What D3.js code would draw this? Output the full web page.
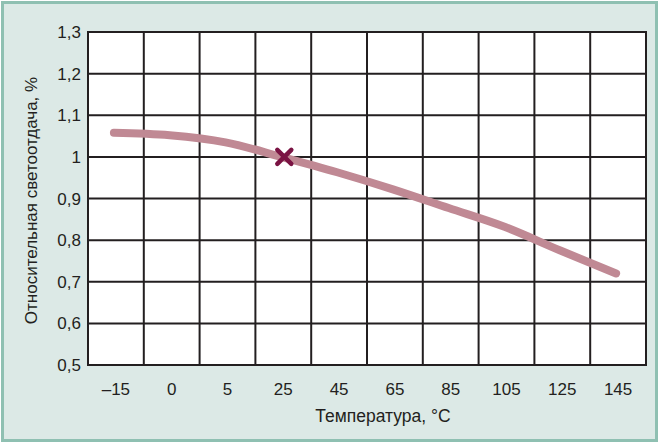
<!DOCTYPE html>
<html>
<head>
<meta charset="utf-8">
<script src="https://cdn.jsdelivr.net/npm/d3@7"></script>
<style>
  html, body { margin: 0; padding: 0; background: #fff; }
  svg { display: block; }
  text { font-family: "Liberation Sans", Arial, sans-serif; fill: #231f20; }
</style>
</head>
<body>
<div id="chart"></div>
<script>
// temperature categories (evenly spaced on the chart)
const temps = ["–15", "0", "5", "25", "45", "65", "85", "105", "125", "145"];
// relative light output
const output = [1.058, 1.052, 1.035, 1.0, 0.963, 0.922, 0.877, 0.832, 0.775, 0.72];
const yTicks = [0.5, 0.6, 0.7, 0.8, 0.9, 1.0, 1.1, 1.2, 1.3];
const markTemp = "25";

const W = 659, H = 443;
const margin = { top: 32, right: 13, bottom: 78, left: 88 };

const svg = d3.select("#chart").append("svg")
  .attr("width", W)
  .attr("height", H);

// panel background + border
svg.append("rect")
  .attr("x", 2.5).attr("y", 2.5)
  .attr("width", W - 5).attr("height", H - 5)
  .attr("fill", "#dce9e6")
  .attr("stroke", "#8fc0b2")
  .attr("stroke-width", 3);

const x = d3.scaleBand()
  .domain(temps)
  .range([margin.left, W - margin.right]);

const y = d3.scaleLinear()
  .domain([0.5, 1.3])
  .range([H - margin.bottom, margin.top]);

// plot area
svg.append("rect")
  .attr("x", margin.left).attr("y", margin.top)
  .attr("width", x.range()[1] - margin.left)
  .attr("height", y(0.5) - margin.top)
  .attr("fill", "#fff");

const grid = svg.append("g").attr("stroke", "#231f20").attr("stroke-width", 2);

// vertical grid: band boundaries
temps.slice(1).forEach(t => {
  grid.append("line")
    .attr("x1", x(t)).attr("x2", x(t))
    .attr("y1", y(1.3)).attr("y2", y(0.5));
});
// horizontal grid
yTicks.forEach(v => {
  grid.append("line")
    .attr("x1", margin.left).attr("x2", x.range()[1])
    .attr("y1", y(v)).attr("y2", y(v));
});
// frame
svg.append("rect")
  .attr("x", margin.left).attr("y", margin.top)
  .attr("width", x.range()[1] - margin.left)
  .attr("height", y(0.5) - margin.top)
  .attr("fill", "none")
  .attr("stroke", "#231f20")
  .attr("stroke-width", 2);

// y tick labels
svg.append("g").selectAll("text")
  .data(yTicks)
  .enter().append("text")
  .attr("x", margin.left - 7)
  .attr("y", d => y(d) + 6)
  .attr("text-anchor", "end")
  .attr("font-size", 17)
  .text(d => d === 1 ? "1" : d3.format(".1f")(d).replace(".", ","));

// x tick labels
svg.append("g").selectAll("text")
  .data(temps)
  .enter().append("text")
  .attr("x", d => x(d) + x.bandwidth() / 2)
  .attr("y", y(0.5) + 30)
  .attr("text-anchor", "middle")
  .attr("font-size", 17)
  .text(d => d);

// axis titles
svg.append("text")
  .attr("x", 383)
  .attr("y", 422)
  .attr("text-anchor", "middle")
  .attr("font-size", 17.5)
  .text("Температура, °С");

svg.append("text")
  .attr("transform", `translate(37, ${(y(1.3) + y(0.5)) / 2 + 2}) rotate(-90)`)
  .attr("text-anchor", "middle")
  .attr("font-size", 17)
  .text("Относительная светоотдача, %");

// curve
const line = d3.line()
  .x((d, i) => x(temps[i]) + x.bandwidth() / 2 - 2)
  .y(d => y(d))
  .curve(d3.curveMonotoneX);

svg.append("path")
  .datum(output)
  .attr("d", line)
  .attr("fill", "none")
  .attr("stroke", "#c08994")
  .attr("stroke-width", 8)
  .attr("stroke-linecap", "round");

// cross marker at 25 °C
const mi = temps.indexOf(markTemp);
const mx = x(markTemp) + x.bandwidth() / 2 + 1, my = y(output[mi]);
const s = 7;
svg.append("path")
  .attr("d", `M${mx - s},${my - s}L${mx + s},${my + s}M${mx - s},${my + s}L${mx + s},${my - s}`)
  .attr("stroke", "#7a1343")
  .attr("stroke-width", 4.5)
  .attr("stroke-linecap", "round");
</script>
</body>
</html>
